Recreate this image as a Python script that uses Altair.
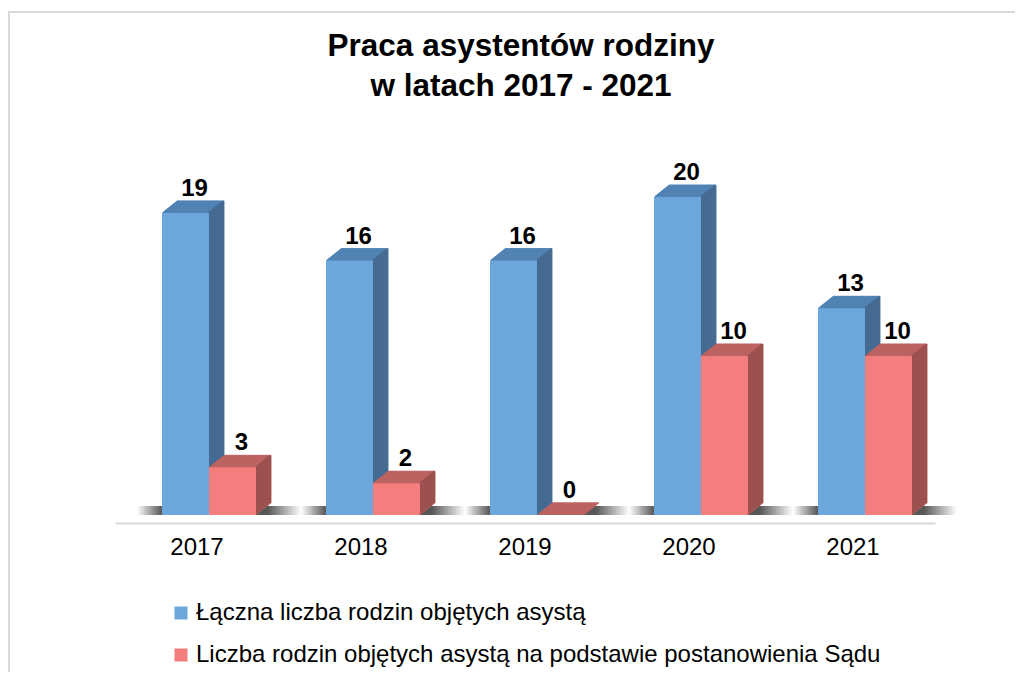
import altair as alt
import pandas as pd

years = ["2017", "2018", "2019", "2020", "2021"]
total_families = [19, 16, 16, 20, 13]
court_families = [3, 2, 0, 10, 10]
series_names = [
    "Łączna liczba rodzin objętych asystą",
    "Liczba rodzin objętych asystą na podstawie postanowienia Sądu",
]
front_colors = ["#6ca6da", "#f47d7d"]
top_colors = ["#5083b3", "#bc6361"]
side_colors = ["#456b93", "#9c5150"]
title_lines = ["Praca asystentów rodziny", "w latach 2017 - 2021"]

rows = []
for s, vals in zip(series_names, [total_families, court_families]):
    for yr, v in zip(years, vals):
        rows.append({"year": yr, "series": s, "value": v})
df = pd.DataFrame(rows)
df_years = pd.DataFrame({"year": years})

FONT = "Liberation Sans"
W, H = 820, 318
BAR_W = 47
DEPTH_X, DEPTH_Y, STEPS = 15.0, 12.0, 15
centers = [-11.5, 35.5]

x_enc = alt.X(
    "year:N",
    sort=years,
    scale=alt.Scale(domain=years, paddingInner=0, paddingOuter=0),
    axis=alt.Axis(
        title=None, labelFontSize=24, labelFont=FONT, labelColor="black",
        labelAngle=0, ticks=False, tickSize=0, domainColor="#d9d9d9",
        domainWidth=2, offset=8, labelPadding=12, grid=False,
    ),
)
y_enc = alt.Y("value:Q", scale=alt.Scale(domain=[0, 20], nice=False, zero=True), axis=None)

base = alt.Chart(df)
layers = []

# frame around the chart
frame = alt.Chart(pd.DataFrame({"f": [0]})).mark_rect(
    fill="transparent", stroke="#d9d9d9", strokeWidth=2
).encode(
    x=alt.value(-106), x2=alt.value(1000), y=alt.value(-185), y2=alt.value(520)
)
layers.append(frame)

# title as text
for j, line in enumerate(title_lines):
    layers.append(
        alt.Chart(pd.DataFrame({"t": [line]})).mark_text(
            fontSize=31.5, fontWeight="bold", font=FONT, color="black",
            align="center", baseline="middle",
        ).encode(x=alt.value(406), y=alt.value(-150 + 40 * j), text="t:N")
    )

# floor shadow under each group
shadow_grad = alt.LinearGradient(
    gradient="linear", x1=0, x2=1, y1=0, y2=0,
    stops=[
        alt.GradientStop(color="#ffffff", offset=0),
        alt.GradientStop(color="#3a3a3a", offset=0.15),
        alt.GradientStop(color="#3a3a3a", offset=0.8),
        alt.GradientStop(color="#ffffff", offset=1),
    ],
)
layers.append(
    alt.Chart(df_years).mark_bar(
        width=164, xOffset=22, color=shadow_grad, opacity=0.85
    ).encode(x=x_enc, y=alt.value(H - 9), y2=alt.value(H))
)

for i, name in enumerate(series_names):
    sub = base.transform_filter(alt.datum.series == name)
    cx = centers[i]
    dx = DEPTH_X / STEPS
    dy = DEPTH_Y / STEPS
    # top face (and side, repainted below)
    for k in range(1, STEPS + 1):
        layers.append(
            sub.mark_bar(
                width=BAR_W, color=top_colors[i], stroke=top_colors[i], strokeWidth=1,
                xOffset=cx + k * dx, x2Offset=cx + k * dx,
                yOffset=-k * dy, y2Offset=-k * dy,
            ).encode(x=x_enc, y=y_enc)
        )
    # side face
    edge = cx + BAR_W / 2.0
    for k in range(1, STEPS + 1):
        layers.append(
            sub.mark_bar(
                width=2, color=side_colors[i],
                xOffset=edge + k * dx - 1, x2Offset=edge + k * dx - 1,
                yOffset=-k * dy, y2Offset=-k * dy,
            ).encode(x=x_enc, y=y_enc)
        )
    # front face
    layers.append(
        sub.mark_bar(width=BAR_W, xOffset=cx, x2Offset=cx).encode(
            x=x_enc,
            y=y_enc,
            color=alt.Color(
                "series:N",
                scale=alt.Scale(domain=series_names, range=front_colors),
                legend=alt.Legend(
                    orient="none", legendX=54, legendY=404, direction="vertical",
                    title=None, symbolType="square", symbolSize=169,
                    symbolStrokeWidth=0, labelFontSize=24, labelFont=FONT,
                    labelColor="black", labelLimit=900, rowPadding=18,
                    labelOffset=3, padding=0,
                ),
            ),
        )
    )

for i, name in enumerate(series_names):
    sub = base.transform_filter(alt.datum.series == name)
    layers.append(
        sub.mark_text(
            fontSize=24, fontWeight="bold", font=FONT, color="black",
            xOffset=centers[i] + 9, yOffset=-17, baseline="alphabetic", align="center",
        ).encode(x=x_enc, y=y_enc, text=alt.Text("value:Q"))
    )

chart = alt.layer(*layers).properties(
    width=W,
    height=H,
    padding={"left": 107, "top": 189, "right": 80, "bottom": 157},
    autosize=alt.AutoSizeParams(type="none"),
).configure_view(strokeWidth=0)

chart.save("out.html", embed_options={"renderer": "svg", "actions": False})
